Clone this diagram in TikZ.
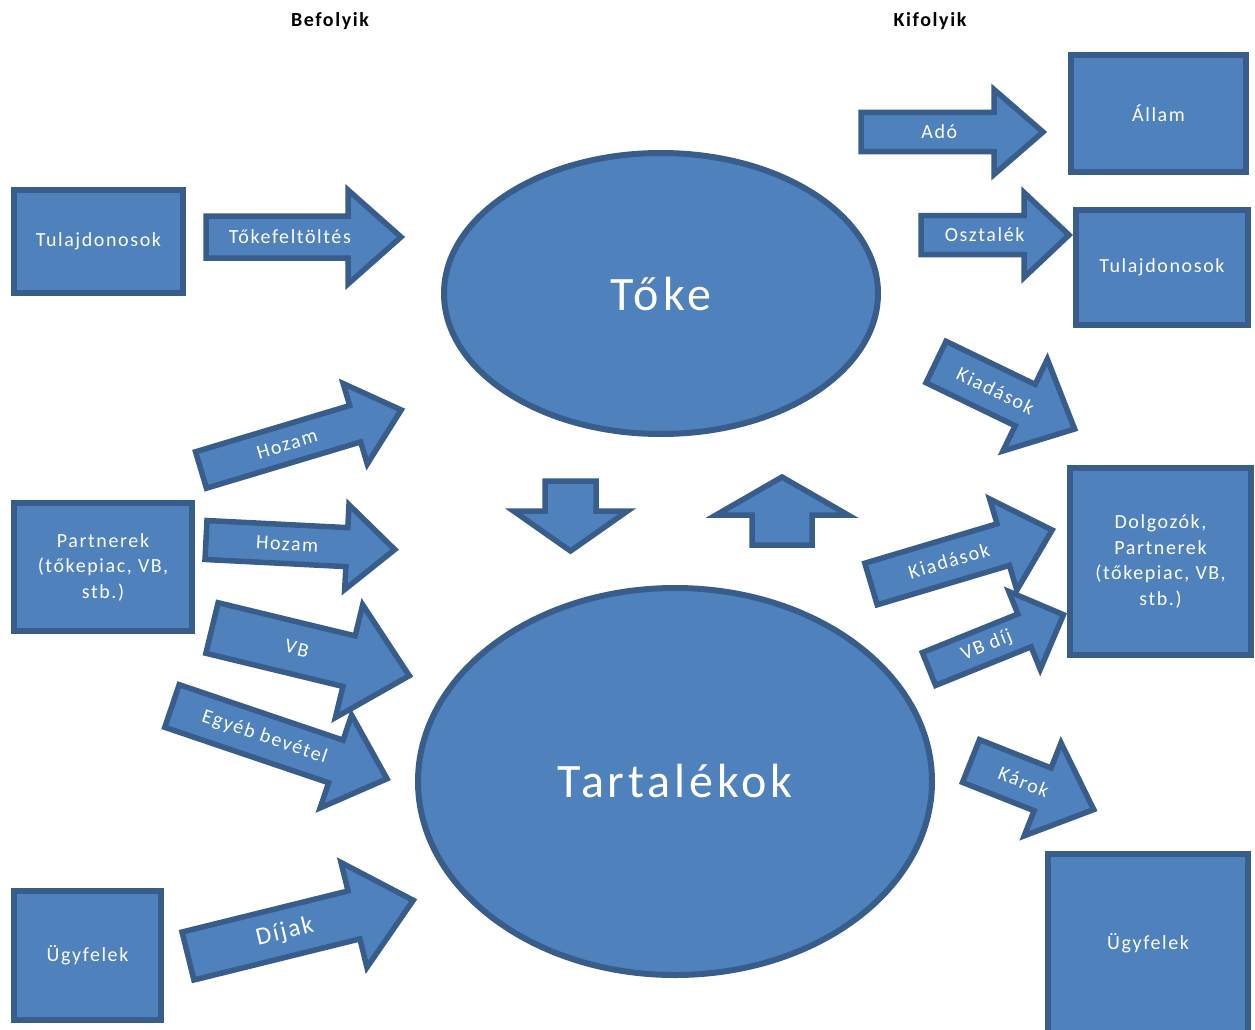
\documentclass[tikz,border=0pt]{standalone}
\usepackage{fontspec}
\setmainfont{Carlito}[LetterSpace=8]
\usetikzlibrary{shapes.geometric}
\definecolor{boxfill}{HTML}{4F81BD}
\definecolor{boxline}{HTML}{385D8A}
\newcommand{\flowarrow}[9]{%
  \begin{scope}[shift={(#2)},rotate=#3]
    \draw[arrowshape] (0,#5) -- ({#4-#7},#5) -- ({#4-#7},#6) -- (#4,0) -- ({#4-#7},-#6) -- ({#4-#7},-#5) -- (0,-#5) -- cycle;
    \node[flowtext,#8,rotate=#3] (#1) at ({0.43*#4},0) {#9};
  \end{scope}}

\begin{document}
\begin{tikzpicture}[x=1pt,y=-1pt,
  box/.style={draw=boxline,fill=boxfill,line width=6pt,text=white,font=\fontsize{20}{25.5}\selectfont,align=center,inner sep=0pt},
  blob/.style={ellipse,draw=boxline,fill=boxfill,line width=6pt,text=white,font=\fontsize{48}{50}\selectfont,inner sep=0pt},
  arrowshape/.style={draw=boxline,fill=boxfill,line width=5.5pt},
  flowtext/.style={text=white,font=\fontsize{20}{24}\selectfont,inner sep=0pt},
  heading/.style={font=\bfseries\fontsize{20}{24}\selectfont}]
\useasboundingbox (0,0) rectangle (1255,1030);
\node[heading] (in) at (330,21) {Befolyik};
\node[heading] (out) at (930,21) {Kifolyik};

\node[blob,minimum width=434pt,minimum height=281pt] (capital) at (661,293.5) {Tőke};
\node[blob,minimum width=514pt,minimum height=387pt] (reserves) at (675,781.5) {Tartalékok};

\node[box,minimum width=169pt,minimum height=103pt] (ownersin) at (98.5,241.5) {Tulajdonosok};
\node[box,minimum width=178pt,minimum height=128pt] (partnersin) at (103,567) {Partnerek\\(tőkepiac, VB,\\stb.)};
\node[box,minimum width=147pt,minimum height=129pt] (clientsin) at (87.5,955.5) {Ügyfelek};
\node[box,minimum width=175pt,minimum height=117pt] (state) at (1158.5,113.5) {Állam};
\node[box,minimum width=172pt,minimum height=115pt] (ownersout) at (1162,267.5) {Tulajdonosok};
\node[box,minimum width=181pt,minimum height=187pt] (partnersout) at (1160.5,561.5) {Dolgozók,\\Partnerek\\(tőkepiac, VB,\\stb.)};
\node[box,minimum width=200pt,minimum height=179pt] (clientsout) at (1148,943.5) {Ügyfelek};

\flowarrow{topup}{206,237}{0}{195}{21}{47}{53}{}{Tőkefeltöltés}
\flowarrow{yieldup}{201,470}{16.7}{209}{19}{42}{48}{}{Hozam}
\flowarrow{yieldmid}{206,540}{-2.9}{189}{19.5}{42.5}{48}{}{Hozam}
\flowarrow{vbin}{212,628}{-13.6}{203}{26}{58}{62}{}{VB}
\flowarrow{otherin}{172,706}{-18.7}{227}{22.5}{49}{54}{}{Egyéb bevétel}
\flowarrow{fees}{188,956}{13.9}{232}{24.7}{54}{61}{font=\fontsize{25}{28}\selectfont}{Díjak}
\flowarrow{tax}{861,132}{0}{182}{19.5}{42.5}{49}{}{Adó}
\flowarrow{dividend}{921,235}{0}{148}{19.5}{42.5}{45}{}{Osztalék}
\flowarrow{costup}{936,362}{-25.8}{154}{23}{51}{55}{}{Kiadások}
\flowarrow{costlow}{871,584}{16.6}{189}{21.7}{47.6}{51}{}{Kiadások}
\flowarrow{vbfee}{929,669}{22}{145}{17.7}{42}{42}{}{VB díj}
\flowarrow{claims}{971,761}{-21.6}{132}{23}{50}{55}{}{Károk}
\flowarrow{down}{570.5,481}{-90}{70}{25.5}{57}{40}{}{}
\flowarrow{up}{782,545}{90}{68}{30}{66}{38}{}{}
\end{tikzpicture}
\end{document}
